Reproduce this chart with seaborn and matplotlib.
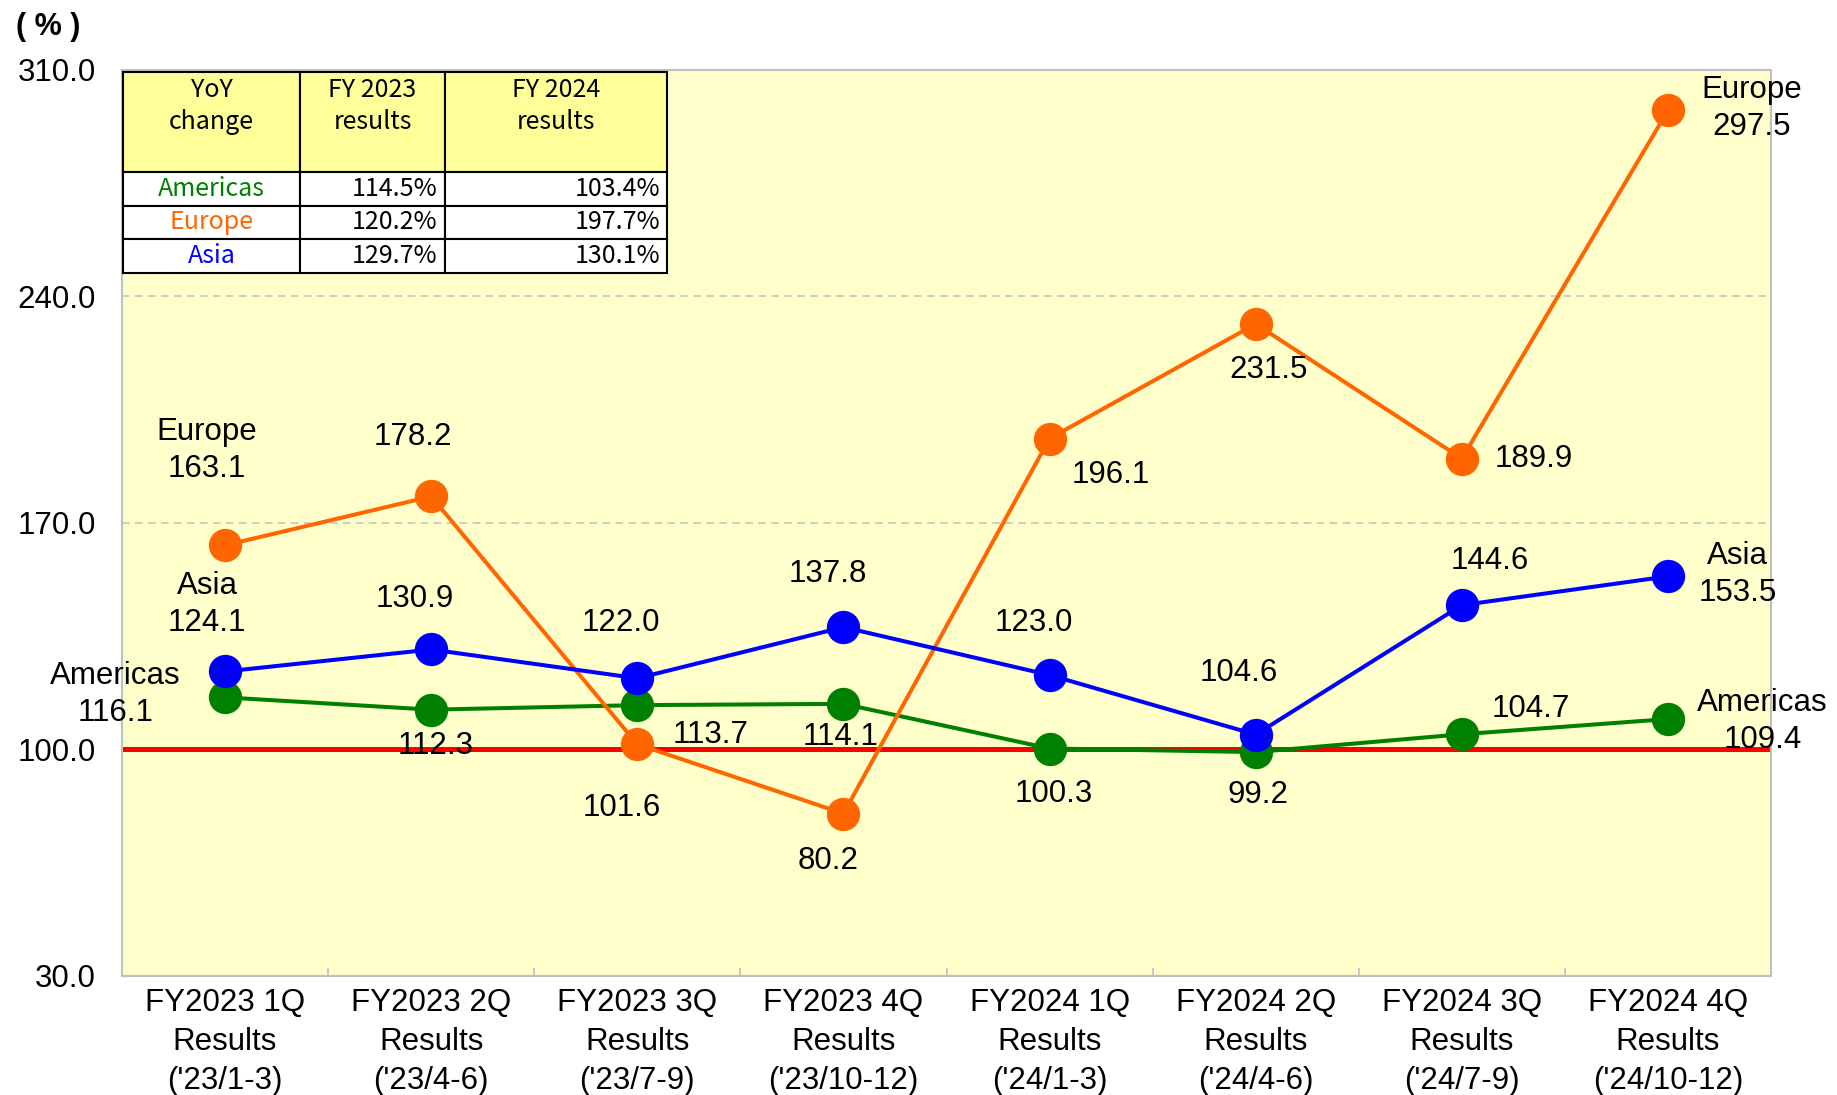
import pandas as pd
import matplotlib.pyplot as plt
import seaborn as sns
from matplotlib.ticker import FixedLocator

# Quarter categories and YoY change (%) per region
quarters = [
    "FY2023 1Q\nResults\n('23/1-3)", "FY2023 2Q\nResults\n('23/4-6)",
    "FY2023 3Q\nResults\n('23/7-9)", "FY2023 4Q\nResults\n('23/10-12)",
    "FY2024 1Q\nResults\n('24/1-3)", "FY2024 2Q\nResults\n('24/4-6)",
    "FY2024 3Q\nResults\n('24/7-9)", "FY2024 4Q\nResults\n('24/10-12)",
]
americas = [116.1, 112.3, 113.7, 114.1, 100.3, 99.2, 104.7, 109.4]
europe = [163.1, 178.2, 101.6, 80.2, 196.1, 231.5, 189.9, 297.5]
asia = [124.1, 130.9, 122.0, 137.8, 123.0, 104.6, 144.6, 153.5]

y_ticks = [30, 100, 170, 240, 310]

# Summary table in the upper-left corner
table_header = ["YoY\nchange", "FY 2023\nresults", "FY 2024\nresults"]
table_regions = ["Americas", "Europe", "Asia"]
table_fy2023 = ["114.5%", "120.2%", "129.7%"]
table_fy2024 = ["103.4%", "197.7%", "130.1%"]

colors = {"Americas": "#008000", "Europe": "#FF6600", "Asia": "#0000FF"}

# label offsets from each point, in points
label_offsets = {
    "Americas": [(-79, 2), (3.5, -26), (52.5, -21.5), (-2, -24),
                 (3, -33), (2, -31), (50, 18), (68, -1.5)],
    "Europe": [(-13, 68), (-13, 42.5), (-11, -46), (-11, -34),
               (44, -26), (9, -33), (52, 0), (60, 1.5)],
    "Asia": [(-13, 48.5), (-11.5, 36), (-12, 39.5), (-11.5, 38),
             (-11.5, 37.5), (-12, 44), (20, 31.5), (50, 1.5)],
}

plt.rcParams["font.family"] = ["Liberation Sans", "DejaVu Sans"]

wide = pd.DataFrame({"Quarter": quarters, "Americas": americas,
                     "Europe": europe, "Asia": asia})
df = wide.melt(id_vars="Quarter", var_name="Region", value_name="Value")

fig, ax = plt.subplots(figsize=(18.37, 10.95), dpi=100)
fig.subplots_adjust(left=0.0664, right=0.9641, top=0.9361, bottom=0.1087)
ax.set_facecolor("#FFFFCC")

ax.axhline(100, color="#FF0000", linewidth=3.6, zorder=1.5)

sns.lineplot(
    data=df, x="Quarter", y="Value", hue="Region",
    hue_order=["Americas", "Europe", "Asia"], palette=colors,
    marker="o", markersize=24, markeredgewidth=0, linewidth=2.9,
    sort=False, legend=False, ax=ax, zorder=3,
)

# value labels
series = {"Americas": americas, "Europe": europe, "Asia": asia}
for name, values in series.items():
    for i, v in enumerate(values):
        txt = f"{v:.1f}"
        if i == 0 or i == len(values) - 1:
            txt = f"{name}\n{txt}"
        dx, dy = label_offsets[name][i]
        ax.annotate(txt, xy=(i, v), xytext=(dx, dy), textcoords="offset points",
                    ha="center", va="center", fontsize=22.5, linespacing=1.3,
                    zorder=5)

# axes
ax.set_xlim(-0.5, len(quarters) - 0.5)
ax.set_ylim(30, 310)
ax.set_yticks(y_ticks)
ax.set_yticklabels([f"{t:.1f}" for t in y_ticks])
ax.set_xticks(range(len(quarters)))
ax.set_xticklabels(quarters, linespacing=1.38)
ax.set_xlabel("")
ax.set_ylabel("")
ax.xaxis.set_minor_locator(FixedLocator([i + 0.5 for i in range(len(quarters) - 1)]))
ax.tick_params(axis="y", length=0, pad=19, labelsize=22.5)
ax.tick_params(axis="x", which="major", length=0, pad=9, labelsize=22.5)
ax.tick_params(axis="x", which="minor", direction="in", length=6, width=1.2,
               color="#C0C0C0")
ax.yaxis.grid(True, linestyle=(0, (5, 3.5)), color="#C0C0C0", linewidth=1.1)
ax.set_axisbelow(True)
for sp in ax.spines.values():
    sp.set_color("#C0C0C0")
    sp.set_linewidth(1.5)

# table
cell_text = [[table_header[0] + "\n", table_header[1] + "\n", table_header[2] + "\n"]]
for r, a, b in zip(table_regions, table_fy2023, table_fy2024):
    cell_text.append([r, a, b])
tbl = ax.table(cellText=cell_text, colWidths=[177, 145, 222],
               bbox=[0.0006, 0.776, 0.3299, 0.2219], cellLoc="center", zorder=6)
tbl.auto_set_font_size(False)
for (row, col), cell in tbl.get_celld().items():
    cell.set_edgecolor("black")
    cell.set_linewidth(1.5)
    cell.set_height(100 if row == 0 else 33.7)
    t = cell.get_text()
    t.set_fontfamily(["Noto Sans CJK JP", "DejaVu Sans"])
    t.set_fontsize(18)
    if row == 0:
        cell.set_facecolor("#FFFF99")
        t.set_linespacing(1.3)
    else:
        cell.set_facecolor("white")
        if col == 0:
            t.set_color(colors[table_regions[row - 1]])
        else:
            t.set_horizontalalignment("right")
            cell.PAD = 0.055 if col == 1 else 0.032

fig.text(48 / 1837, 1 - 27 / 1095, "( % )", fontsize=22, weight="bold",
         ha="center", va="center")

plt.savefig("out.png", dpi=100)
